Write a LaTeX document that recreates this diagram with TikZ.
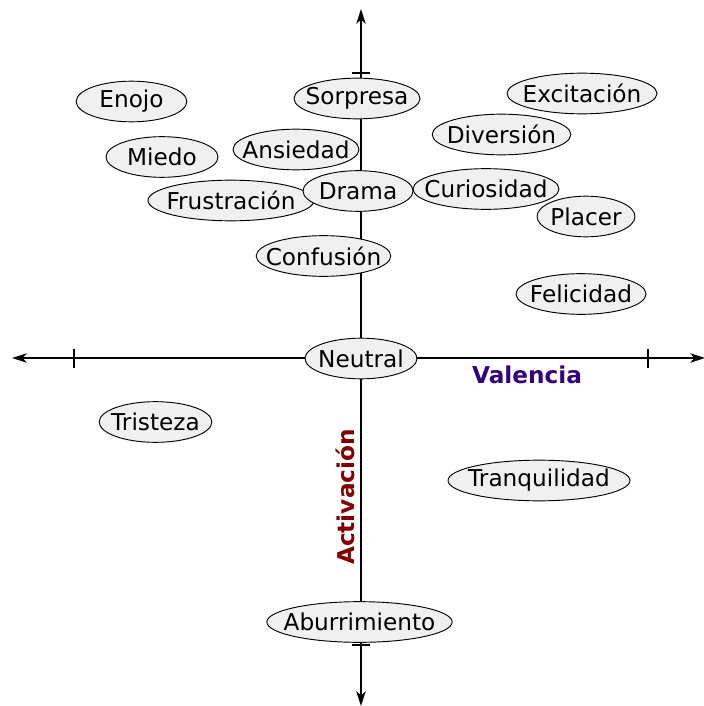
\documentclass[tikz,border=0pt]{standalone}
\usepackage{fontspec}
\setmainfont{DejaVu Sans}
\usetikzlibrary{shapes.geometric,arrows.meta}
\definecolor{emofill}{HTML}{F0F0F0}
\definecolor{valcol}{HTML}{330080}
\definecolor{actcol}{HTML}{800000}
\newcommand\zw[1]{\makebox[0pt]{#1}}
\tikzset{
  emo/.style={ellipse, draw=black, line width=0.7pt, fill=emofill, inner sep=0pt,
    minimum height=30.5pt, font=\fontsize{17.4}{20}\selectfont},
  axis/.style={line width=1.3pt, -{Stealth[length=11pt,width=7pt,inset=3pt]}},
  tick/.style={line width=0.9pt},
  axlabel/.style={font=\fontsize{17.4}{20}\selectfont\bfseries}
}
\begin{document}
\begin{tikzpicture}[x=0.75pt,y=-0.75pt]
\useasboundingbox (0,0) rectangle (703,706);
\coordinate (O) at (361,358);
\coordinate (L) at (12,358);
\coordinate (R) at (705,358);
\coordinate (T) at (361,9);
\coordinate (B) at (361,706);
\draw[axis] (O) -- (L);
\draw[axis] (O) -- (R);
\draw[axis] (O) -- (T);
\draw[axis] (O) -- (B);
\coordinate (tl1) at (74,349); \coordinate (tl2) at (74,368);
\coordinate (tr1) at (648,349); \coordinate (tr2) at (648,368);
\coordinate (tt1) at (352,73); \coordinate (tt2) at (370,73);
\coordinate (tb1) at (352,645); \coordinate (tb2) at (370,645);
\draw[tick] (tl1) -- (tl2);
\draw[tick] (tr1) -- (tr2);
\draw[tick] (tt1) -- (tt2);
\draw[tick] (tb1) -- (tb2);

\node[emo, minimum width=83pt] (enojo) at (131.5,101.5) {\zw{Enojo}};
\node[emo, minimum width=94.5pt] (sorpresa) at (357,98.5) {\zw{Sorpresa}};
\node[emo, minimum width=112.5pt] (excitacion) at (582,93.5) {\zw{Excitación}};
\node[emo, minimum width=104pt] (diversion) at (501.5,134.5) {\zw{Diversión}};
\node[emo, minimum width=84pt] (miedo) at (162,157) {\zw{Miedo}};
\node[emo, minimum width=94.5pt] (ansiedad) at (296,149.5) {\zw{Ansiedad}};
\node[emo, minimum width=124.5pt] (frustracion) at (231,200.5) {\zw{Frustración}};
\node[emo, minimum width=82.5pt] (drama) at (358,191) {\zw{Drama}};
\node[emo, minimum width=109.5pt] (curiosidad) at (486,189) {\zw{Curiosidad}};
\node[emo, minimum width=73.5pt] (placer) at (586,216.5) {\zw{Placer}};
\node[emo, minimum width=101pt] (confusion) at (323.5,256) {\zw{Confusión}};
\node[emo, minimum width=97.5pt] (felicidad) at (581,294) {\zw{Felicidad}};
\node[emo, minimum width=84pt] (neutral) at (361,358.5) {\zw{Neutral}};
\node[emo, minimum width=84.5pt] (tristeza) at (155.5,422) {\zw{Tristeza}};
\node[emo, minimum width=136.5pt] (tranquilidad) at (539,480.5) {\zw{Tranquilidad}};
\node[emo, minimum width=139pt] (aburrimiento) at (359.5,622) {\zw{Aburrimiento}};

\node[axlabel, text=valcol] (valencia) at (527,375) {Valencia};
\node[axlabel, text=actcol, rotate=90] (activacion) at (345,497) {Activación};
\end{tikzpicture}
\end{document}
